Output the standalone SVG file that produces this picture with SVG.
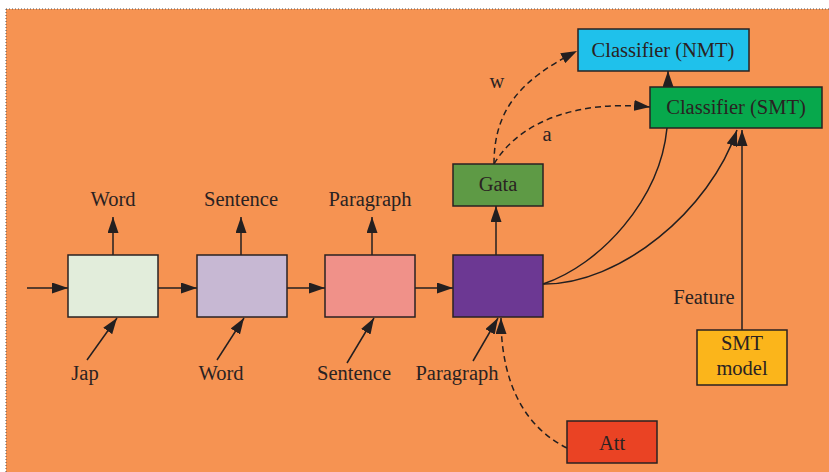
<svg xmlns="http://www.w3.org/2000/svg" width="829" height="472" viewBox="0 0 829 472">
<style>
.bx{stroke:#2a2222;stroke-width:1.5}
.t{font-family:"Liberation Serif","Times New Roman",serif;font-size:20.5px;fill:#2a2222;text-anchor:middle}
.ln{fill:none;stroke:#231f20;stroke-width:1.5}
.ds{fill:none;stroke:#231f20;stroke-width:1.5;stroke-dasharray:6 4}
</style>
<defs>
<marker id="ah" viewBox="0 0 16 11" refX="16" refY="5.5" markerWidth="16" markerHeight="11" orient="auto" markerUnits="userSpaceOnUse">
<path d="M0,0 L16,5.5 L0,11 z" fill="#231f20"/>
</marker>
</defs>
<rect x="0" y="0" width="829" height="472" fill="#ffffff"/>
<rect x="6" y="9" width="823" height="463" fill="#f69352"/>
<path d="M6,9 H829 M6,9 V472" fill="none" stroke="#555" stroke-width="1" stroke-dasharray="1 2"/>

<g id="connectors">
<line class="ln" x1="27" y1="288" x2="68" y2="288" marker-end="url(#ah)"/>
<line class="ln" x1="158" y1="288" x2="197" y2="288" marker-end="url(#ah)"/>
<line class="ln" x1="287" y1="288" x2="325" y2="288" marker-end="url(#ah)"/>
<line class="ln" x1="415" y1="288" x2="453" y2="288" marker-end="url(#ah)"/>
<line class="ln" x1="113" y1="255" x2="113" y2="217" marker-end="url(#ah)"/>
<line class="ln" x1="241" y1="255" x2="241" y2="217" marker-end="url(#ah)"/>
<line class="ln" x1="372" y1="255" x2="372" y2="217" marker-end="url(#ah)"/>
<line class="ln" x1="496" y1="255" x2="496" y2="206" marker-end="url(#ah)"/>
<line class="ln" x1="87" y1="360" x2="117" y2="318" marker-end="url(#ah)"/>
<line class="ln" x1="217" y1="360" x2="244" y2="318" marker-end="url(#ah)"/>
<line class="ln" x1="347" y1="363" x2="374" y2="318" marker-end="url(#ah)"/>
<line class="ln" x1="473" y1="361" x2="498" y2="318" marker-end="url(#ah)"/>
<path class="ds" d="M567,448 C530,430 501,390 501,318" marker-end="url(#ah)"/>
<path class="ds" d="M494,164 C494,110 520,80 577,51" marker-end="url(#ah)"/>
<path class="ds" d="M494,164 C520,120 580,100 650,107" marker-end="url(#ah)"/>
<line class="ln" x1="668" y1="87" x2="668" y2="71" marker-end="url(#ah)"/>
<path class="ln" d="M543,284 C600,265 660,200 667,128"/>
<path class="ln" d="M543,284 C620,285 710,210 737,130" marker-end="url(#ah)"/>
<line class="ln" x1="742" y1="330" x2="742" y2="130" marker-end="url(#ah)"/>
<text class="t" x="497" y="88">w</text>
<text class="t" x="547" y="141">a</text>
<text class="t" x="704" y="304">Feature</text>
<text class="t" x="113" y="206">Word</text>
<text class="t" x="241" y="206">Sentence</text>
<text class="t" x="370" y="206">Paragraph</text>
<text class="t" x="85" y="380">Jap</text>
<text class="t" x="221" y="380">Word</text>
<text class="t" x="354" y="380">Sentence</text>
<text class="t" x="457" y="380">Paragraph</text>
</g>

<g id="box-jap"><rect class="bx" x="68" y="255" width="90" height="62" fill="#e2eddb"/></g>
<g id="box-word"><rect class="bx" x="197" y="255" width="90" height="62" fill="#c7b8d3"/></g>
<g id="box-sentence"><rect class="bx" x="325" y="255" width="90" height="62" fill="#f09189"/></g>
<g id="box-paragraph"><rect class="bx" x="453" y="255" width="90" height="62" fill="#6c3893"/></g>
<g id="gata"><rect class="bx" x="453" y="164" width="90" height="42" fill="#5e9a45"/><text class="t" x="498" y="191">Gata</text></g>
<g id="classifier-nmt"><rect class="bx" x="578" y="29" width="171" height="42" fill="#1fc1eb"/><text class="t" x="663" y="57">Classifier (NMT)</text></g>
<g id="classifier-smt"><rect class="bx" x="650" y="87" width="172" height="41" fill="#07a84c"/><text class="t" x="736" y="114">Classifier (SMT)</text></g>
<g id="smt-model"><rect class="bx" x="697" y="330" width="90" height="55" fill="#fbb51b"/><text class="t" x="742" y="350">SMT</text><text class="t" x="742" y="375">model</text></g>
<g id="att"><rect class="bx" x="567" y="421" width="90" height="42" fill="#ea4324"/><text class="t" x="612" y="450">Att</text></g>
</svg>
